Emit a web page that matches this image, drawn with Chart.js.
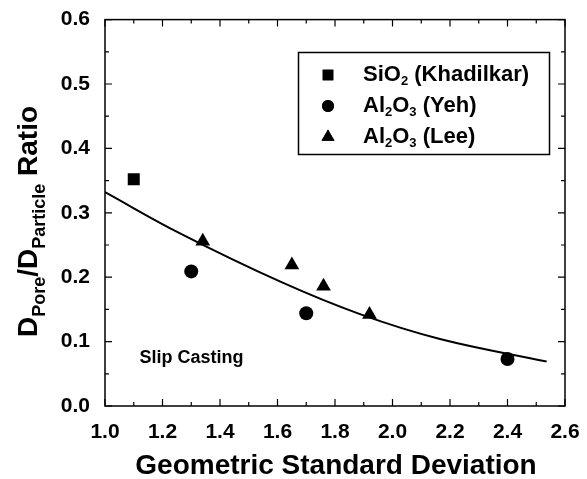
<!DOCTYPE html>
<html>
<head>
<meta charset="utf-8">
<script src="https://cdn.jsdelivr.net/npm/chart.js@4.4.0/dist/chart.umd.min.js"></script>
<style>
  body { margin: 0; background: #fff; }
  #wrap { width: 587px; height: 479px; }
</style>
</head>
<body>
<div id="wrap"><canvas id="chart" width="587" height="479"></canvas></div>
<script>
// values
const khadX = [1.10];
const khadY = [0.352];
const yehX = [1.30, 1.70, 2.40];
const yehY = [0.209, 0.144, 0.073];
const leeX = [1.34, 1.65, 1.76, 1.92];
const leeY = [0.256, 0.219, 0.186, 0.142];
// fitted curve, points
const fitX = [1.0, 1.261, 1.61, 1.887, 2.165, 2.536];
const fitY = [0.332, 0.268, 0.193, 0.1426, 0.104, 0.069];

// legend texts as [text, isSubscript]
const legendLabels = [
  [['SiO', 0], ['2', 1], [' (Khadilkar)', 0]],
  [['Al', 0], ['2', 1], ['O', 0], ['3', 1], [' (Yeh)', 0]],
  [['Al', 0], ['2', 1], ['O', 0], ['3', 1], [' (Lee)', 0]]
];
const xTitle = 'Geometric Standard Deviation';
const yTitle = [['D', 0], ['Pore', 1], ['/D', 0], ['Particle', 1], [' Ratio', 0]];
const note = 'Slip Casting';

const FONT = '"Liberation Sans", Arial, sans-serif';

function toPoints(xs, ys) {
  return xs.map((x, i) => ({ x: x, y: ys[i] }));
}

function drawRich(ctx, parts, x, y, size, subSize, subDrop) {
  let cx = x;
  parts.forEach(p => {
    ctx.font = 'bold ' + (p[1] ? subSize : size) + 'px ' + FONT;
    ctx.fillText(p[0], cx, y + (p[1] ? subDrop : 0));
    cx += ctx.measureText(p[0]).width;
  });
}

const extras = {
  id: 'extras',
  afterDraw(chart) {
    const ctx = chart.ctx;
    const a = chart.chartArea;
    const xs = chart.scales.x;
    const ys = chart.scales.y;
    ctx.save();
    ctx.strokeStyle = '#000';
    ctx.fillStyle = '#000';
    ctx.lineWidth = 1.5;
    ctx.strokeRect(a.left, a.top, a.right - a.left, a.bottom - a.top);

    // inward ticks on all four sides
    ctx.lineWidth = 1.2;
    ctx.beginPath();
    for (let v = 10; v <= 26; v++) {
      const px = xs.getPixelForValue(v / 10);
      const len = v % 2 === 0 ? 7 : 4;
      ctx.moveTo(px, a.bottom); ctx.lineTo(px, a.bottom - len);
      ctx.moveTo(px, a.top); ctx.lineTo(px, a.top + len);
    }
    for (let v = 0; v <= 12; v++) {
      const py = ys.getPixelForValue(v / 20);
      const len = v % 2 === 0 ? 7 : 4;
      ctx.moveTo(a.left, py); ctx.lineTo(a.left + len, py);
      ctx.moveTo(a.right, py); ctx.lineTo(a.right - len, py);
    }
    ctx.stroke();

    // axis titles
    ctx.textBaseline = 'alphabetic';
    ctx.textAlign = 'center';
    ctx.font = 'bold 28px ' + FONT;
    ctx.fillText(xTitle, 336, 474);

    ctx.textAlign = 'left';
    ctx.save();
    ctx.translate(37, 337);
    ctx.rotate(-Math.PI / 2);
    drawRich(ctx, yTitle, 0, 0, 28, 18, 8);
    ctx.restore();

    // note
    ctx.font = 'bold 18px ' + FONT;
    ctx.fillText(note, xs.getPixelForValue(1.12), ys.getPixelForValue(0.066));

    // legend box
    ctx.lineWidth = 1.5;
    ctx.strokeRect(298.5, 52.5, 251, 102);
    const rows = [75, 106, 137];
    chart.data.datasets.slice(1).forEach((ds, i) => {
      Chart.helpers.drawPoint(ctx, { pointStyle: ds.pointStyle, radius: ds.pointRadius - 1, rotation: 0, borderWidth: 0 }, 328, rows[i]);
      ctx.fill();
      ctx.textBaseline = 'middle';
      drawRich(ctx, legendLabels[i], 363, rows[i], 22, 13, 6);
    });
    ctx.restore();
  }
};

new Chart(document.getElementById('chart'), {
  type: 'scatter',
  data: {
    datasets: [
      {
        label: 'fit',
        type: 'line',
        data: toPoints(fitX, fitY),
        borderColor: '#000',
        borderWidth: 2,
        pointRadius: 0,
        fill: false,
        tension: 0.4
      },
      {
        label: 'SiO2 (Khadilkar)',
        data: toPoints(khadX, khadY),
        pointStyle: 'rect',
        pointRadius: 8.5,
        backgroundColor: '#000',
        borderColor: '#000',
        borderWidth: 0
      },
      {
        label: 'Al2O3 (Yeh)',
        data: toPoints(yehX, yehY),
        pointStyle: 'circle',
        pointRadius: 7,
        backgroundColor: '#000',
        borderColor: '#000',
        borderWidth: 0
      },
      {
        label: 'Al2O3 (Lee)',
        data: toPoints(leeX, leeY),
        pointStyle: 'triangle',
        pointRadius: 8.5,
        backgroundColor: '#000',
        borderColor: '#000',
        borderWidth: 0
      }
    ]
  },
  options: {
    responsive: false,
    animation: false,
    events: [],
    layout: { padding: { left: 0, top: 16, right: 22, bottom: 0 } },
    plugins: { legend: { display: false }, tooltip: { enabled: false } },
    scales: {
      x: {
        type: 'linear',
        min: 1.0,
        max: 2.6,
        afterFit: s => { s.height = 73; },
        grid: { display: false },
        border: { display: false },
        ticks: {
          stepSize: 0.2,
          padding: 6,
          color: '#000',
          font: { family: FONT, size: 21, weight: 'bold' },
          callback: v => v.toFixed(1)
        }
      },
      y: {
        min: 0,
        max: 0.6,
        afterFit: s => { s.width = 105; },
        grid: { display: false },
        border: { display: false },
        ticks: {
          stepSize: 0.1,
          padding: 7,
          color: '#000',
          font: { family: FONT, size: 21, weight: 'bold' },
          callback: v => v.toFixed(1)
        }
      }
    }
  },
  plugins: [extras]
});
</script>
</body>
</html>
